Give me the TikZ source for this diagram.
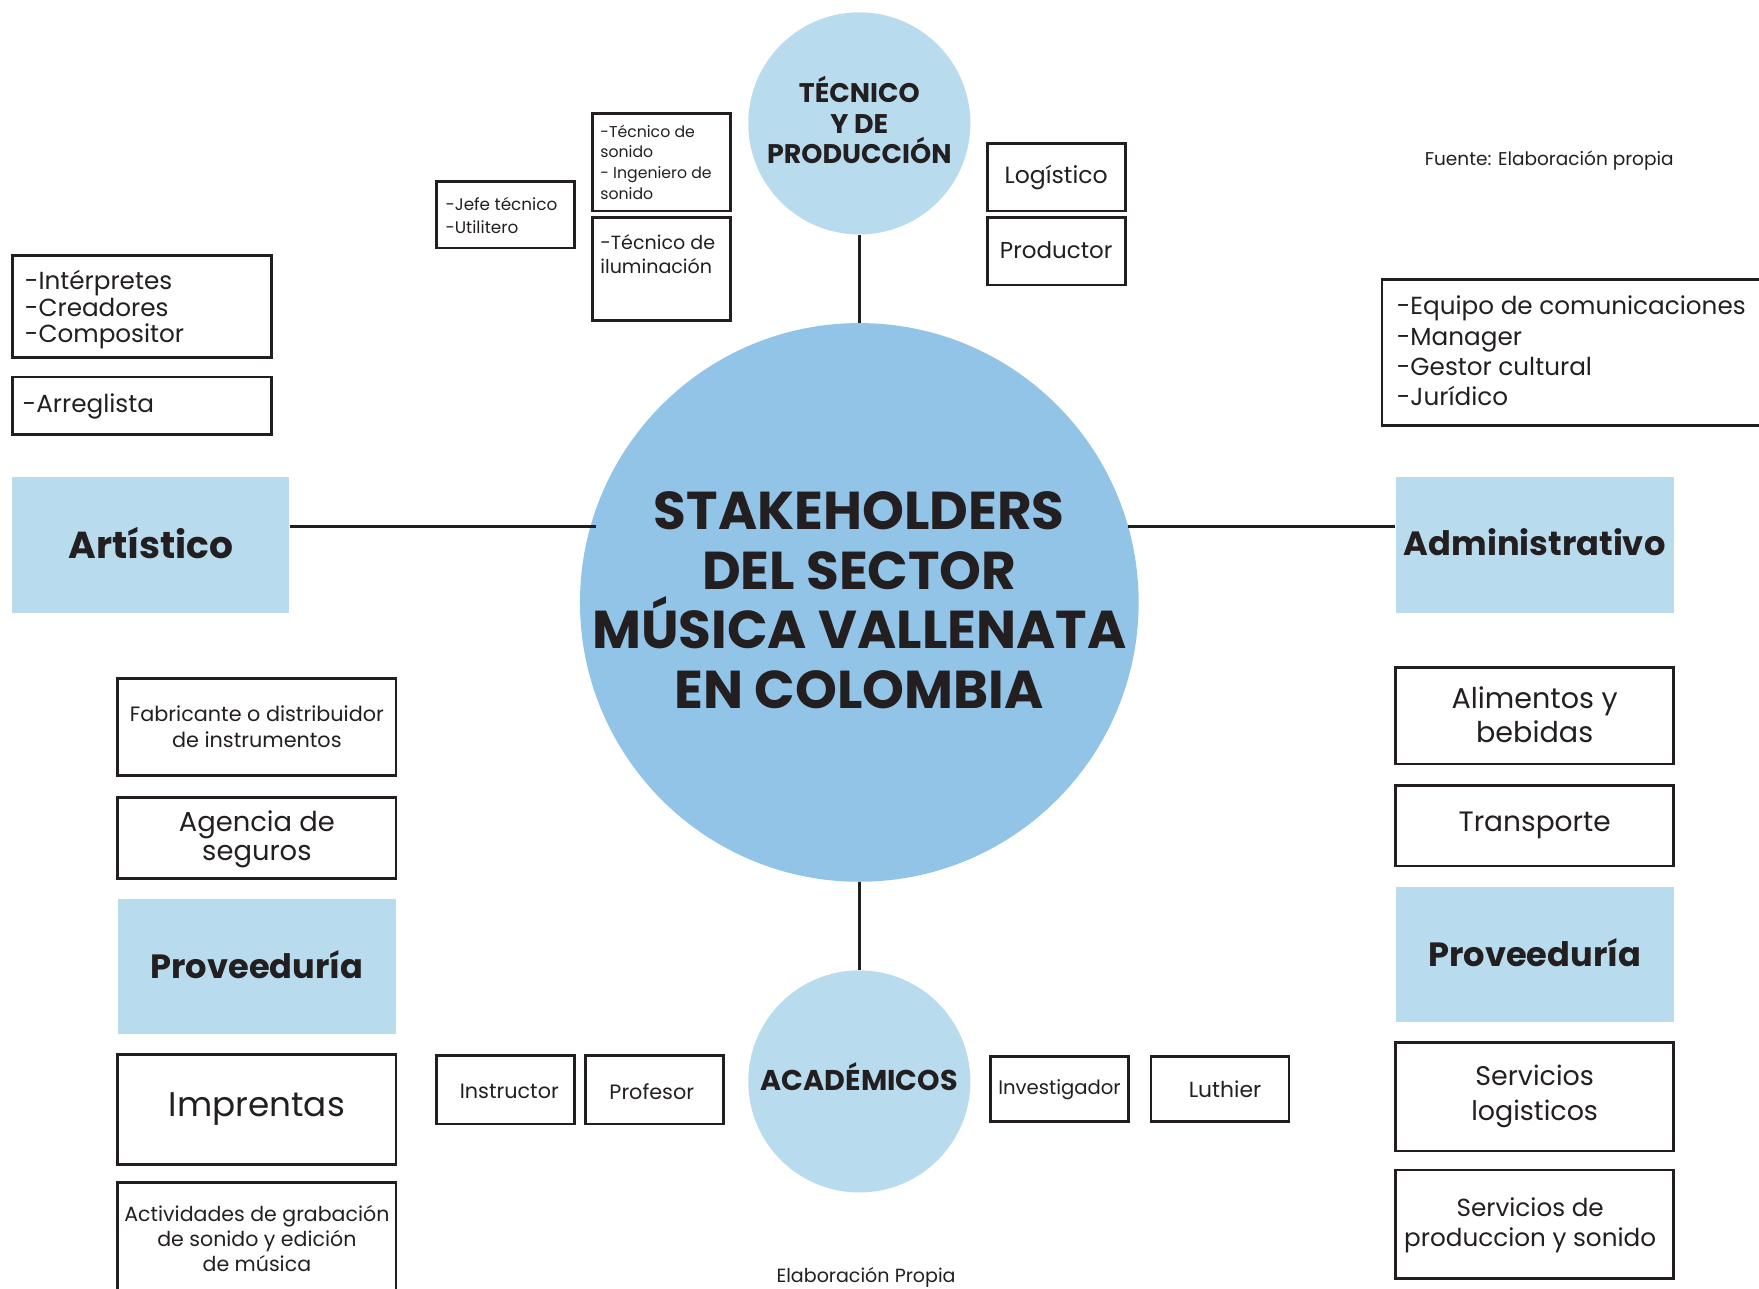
\documentclass[tikz,border=0pt]{standalone}
\usepackage{fontspec}
\setmainfont{Poppins}
\usetikzlibrary{calc}
\definecolor{lblue}{RGB}{184,219,238}
\definecolor{mblue}{RGB}{146,196,232}
\definecolor{ink}{RGB}{35,31,32}
\tikzset{
  frame/.style={draw=ink, line width=2.5pt, inner sep=0pt, text=ink, align=center},
  cat/.style={fill=lblue, inner sep=0pt, text=ink, align=center, font=\bfseries\fontsize{30}{36}\selectfont},
  bub/.style={circle, fill=lblue, inner sep=0pt, minimum size=198},
  conn/.style={draw=ink, line width=2.4pt},
  sz/.style 2 args={font=\fontsize{#1}{#2}\selectfont},
  lbl/.style={inner sep=0pt, text=ink, align=left},
  ctr/.style={inner sep=0pt, text=ink, align=center},
}
\begin{document}
\begin{tikzpicture}[x=1pt,y=-1pt]
\useasboundingbox (0,0) rectangle (1568,1149);
% central circles
\node[circle, fill=mblue, minimum size=498, inner sep=0pt] (main) at (766,537) {};
\node[ctr, font=\bfseries\fontsize{47.5}{53}\selectfont] (main-t) at (766,535)
      {STAKEHOLDERS\\DEL SECTOR\\MÚSICA VALLENATA\\EN COLOMBIA};
\node[bub] (tec) at (766,110) {};
\node[ctr, font=\bfseries\fontsize{24}{27}\selectfont] (tec-t) at (766,107) {TÉCNICO\\Y DE\\PRODUCCIÓN};
\node[bub] (acad) at (766,964) {};
\node[ctr, font=\bfseries\fontsize{25.5}{28}\selectfont] (acad-t) at (766,960) {ACADÉMICOS};
% category boxes
\node[cat, minimum width=247, minimum height=121, font=\bfseries\fontsize{33.5}{38}\selectfont] (art) at (134.5,485.5) {\raisebox{3pt}{Artístico}};
\node[cat, minimum width=248, minimum height=121] (adm) at (1368,485.5) {\raisebox{4pt}{Administrativo}};
\node[cat, minimum width=248, minimum height=121] (provL) at (229,861.5) {\raisebox{4pt}{Proveeduría}};
\node[cat, minimum width=248, minimum height=120] (provR) at (1368,851) {\raisebox{4pt}{Proveeduría}};
% connectors
\coordinate (hl) at ($(main.center)+(-235,-67.5)$);
\coordinate (hr) at ($(main.center)+(239.5,-67.5)$);
\draw[conn] (tec) -- (main);
\draw[conn] (main) -- (acad);
\draw[conn] (hl) -- (art.east |- hl);
\draw[conn] (hr) -- (adm.west |- hr);
% artistic boxes
\node[frame, minimum width=231, minimum height=91] (intp) at (126.5,273.5) {};
\node[lbl, sz={22}{24}, anchor=west] (intp-t) at (22,276) {-Intérpretes\\-Creadores\\-Compositor};
\node[frame, minimum width=231, minimum height=51] (arr) at (126.5,361.5) {};
\node[lbl, sz={22}{24}, anchor=west] (arr-t) at (20,362) {-Arreglista};
% technical boxes
\node[frame, minimum width=123, minimum height=59] (jefe) at (450.5,191.5) {};
\node[lbl, sz={15}{21}, anchor=west] (jefe-t) at (397,192) {-Jefe técnico\\-Utilitero};
\node[frame, minimum width=123, minimum height=87] (son) at (589.5,144.5) {};
\node[lbl, sz={14}{18.5}, anchor=west] (son-t) at (535,144.5) {-Técnico de\\sonido\\- Ingeniero de\\sonido};
\node[frame, minimum width=123, minimum height=92] (ilu) at (589.5,240) {};
\node[lbl, sz={17}{21}, anchor=west] (ilu-t) at (535,226.5) {-Técnico de\\iluminación};
\node[frame, minimum width=123, minimum height=60, sz={21}{24}] (logi) at (941.5,158) {Logístico};
\node[frame, minimum width=123, minimum height=60, sz={20.5}{24}] (prod) at (941.5,224) {\raisebox{2pt}{Productor}};
% source
\node[lbl, sz={16.5}{18}] (fuente) at (1381,143) {Fuente: Elaboración propia};
% administrative
\node[frame, minimum width=348, minimum height=130] (comm) at (1406,314) {};
\node[lbl, sz={22}{27}, anchor=west] (comm-t) at (1245,313) {-Equipo de comunicaciones\\-Manager\\-Gestor cultural\\-Jurídico};
% left supply
\node[frame, minimum width=248, minimum height=86, sz={18.5}{23}] (fab) at (229,648) {Fabricante o distribuidor\\de instrumentos};
\node[frame, minimum width=248, minimum height=72] (agen) at (229,747) {};
\node[ctr, sz={24.4}{26}] (agen-t) at (229,748) {Agencia de\\seguros};
\node[frame, minimum width=248, minimum height=98, sz={30.5}{34}] (impr) at (229,989) {\raisebox{-2pt}{Imprentas}};
\node[frame, minimum width=248, minimum height=106] (activ) at (229,1107) {};
\node[ctr, sz={18.3}{22}] (activ-t) at (229,1104) {Actividades de grabación\\de sonido y edición\\de música};
% right supply
\node[frame, minimum width=248, minimum height=86] (alim) at (1368,638) {};
\node[ctr, sz={25.5}{30}] (alim-t) at (1368,637) {Alimentos y\\bebidas};
\node[frame, minimum width=248, minimum height=72, sz={25}{28}] (trans) at (1368,736) {\raisebox{-4pt}{Transporte}};
\node[frame, minimum width=248, minimum height=97, sz={24}{31}] (servl) at (1368,977.5) {Servicios\\logisticos};
\node[frame, minimum width=248, minimum height=97] (servp) at (1368,1091.5) {};
\node[ctr, sz={22}{27}] (servp-t) at (1364,1092.5) {Servicios de\\produccion y sonido};
% academic
\node[frame, minimum width=123, minimum height=61] (instr) at (450.5,971.5) {};
\node[ctr, sz={18.5}{21}] (instr-t) at (454,973) {Instructor};
\node[frame, minimum width=123, minimum height=61] (profe) at (583.5,971.5) {};
\node[ctr, sz={18.5}{21}] (profe-t) at (581,973) {Profesor};
\node[frame, minimum width=123, minimum height=58, sz={17.5}{21}] (inves) at (944.5,971) {Investigador};
\node[frame, minimum width=123, minimum height=58] (luth) at (1087.5,971) {};
\node[ctr, sz={19.5}{21}] (luth-t) at (1092,971) {Luthier};
\node[lbl, sz={17}{18}] (elab) at (772,1139) {Elaboración Propia};
\end{tikzpicture}
\end{document}
